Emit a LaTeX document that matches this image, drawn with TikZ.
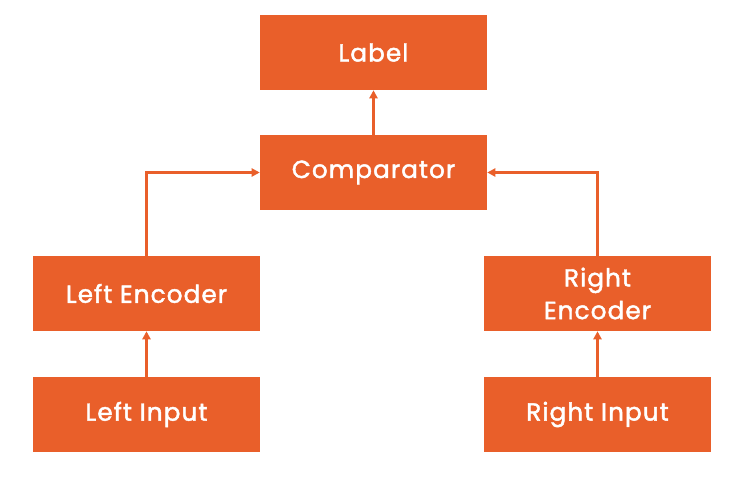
\documentclass[tikz,border=0pt]{standalone}
\usepackage{fontspec}
\setmainfont{Poppins}
\newfontfamily\boxfont{Poppins}[LetterSpace=4.5,FakeBold=1.8]
\usetikzlibrary{arrows.meta}
\definecolor{boxor}{HTML}{E95F2A}
\begin{document}
\begin{tikzpicture}[x=0.75pt,y=-0.75pt,
  blk/.style={fill=boxor,draw=none,minimum width=170.25pt,minimum height=56.25pt,inner sep=0pt,text=white,font=\boxfont\fontsize{18.5}{24.5}\selectfont,align=center},
  conn/.style={draw=boxor,line width=1.6pt,-{Triangle[length=6pt,width=6pt]}}]
\useasboundingbox (0,0) rectangle (736,477);
\node[blk] (label) at (373.5,52.5) {Label};
\node[blk] (comp) at (373.5,172.5) {Comparator};
\node[blk] (lenc) at (146.5,293.5) {Left Encoder};
\node[blk] (renc) at (597.5,293.5) {Right\\Encoder};
\node[blk] (linp) at (146.5,414.5) {Left Input};
\node[blk] (rinp) at (597.5,414.5) {Right Input};
\draw[conn] (comp.north) -- (label.south);
\draw[conn] (linp.north) -- (lenc.south);
\draw[conn] (rinp.north) -- (renc.south);
\draw[conn] (lenc.north) |- (comp.west);
\draw[conn] (renc.north) |- (comp.east);
\end{tikzpicture}
\end{document}
